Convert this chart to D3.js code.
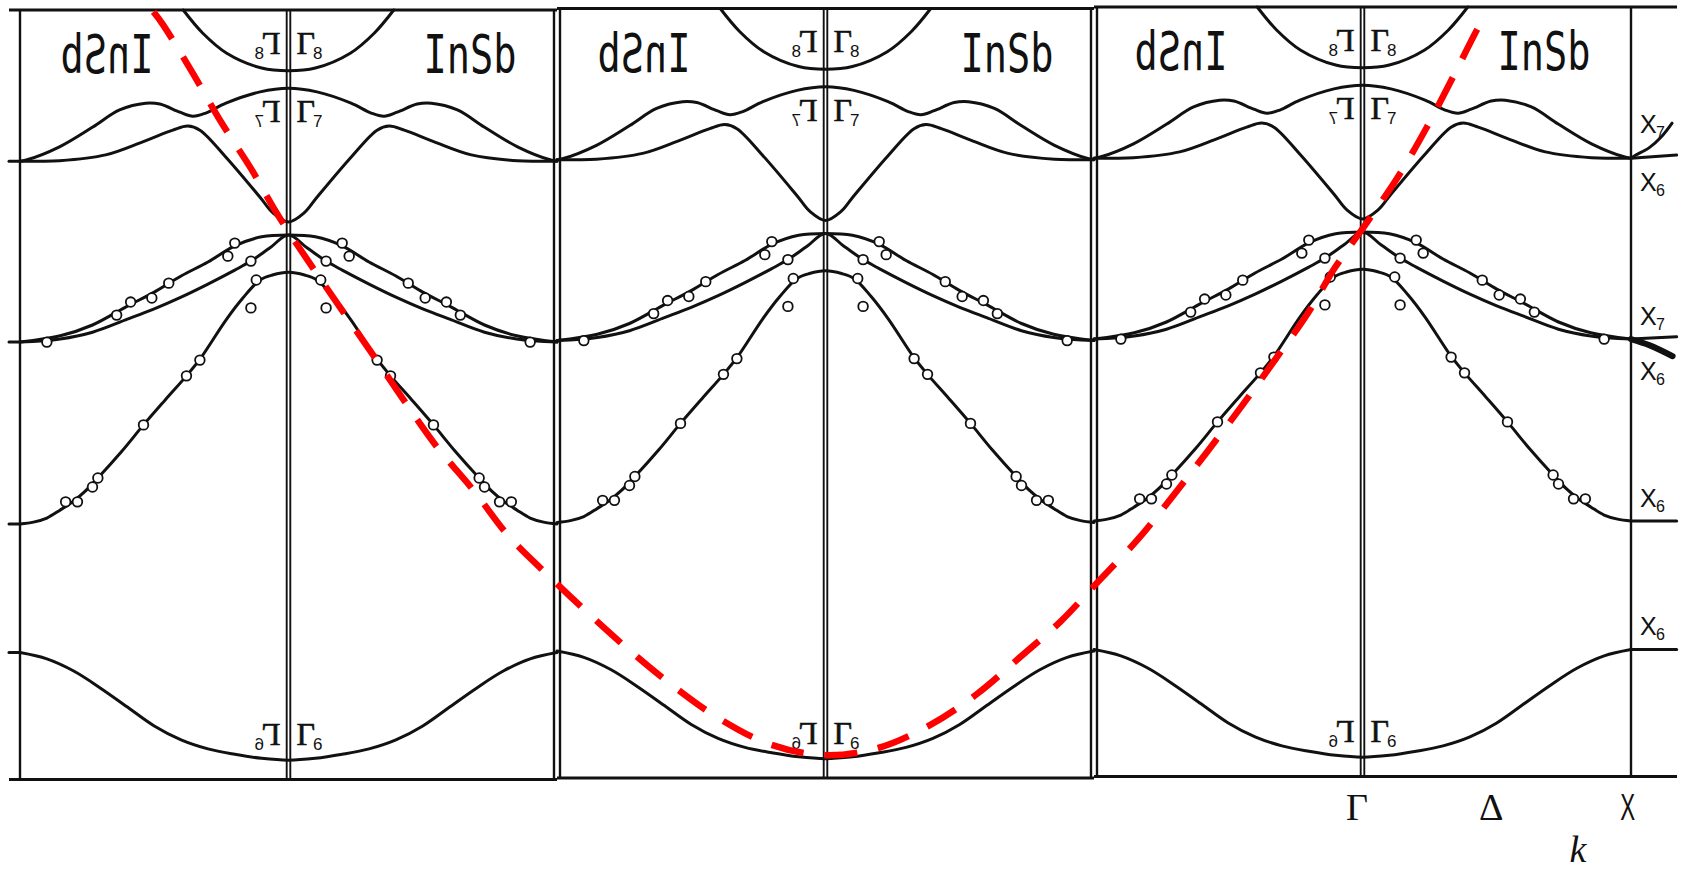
<!DOCTYPE html>
<html>
<head>
<meta charset="utf-8">
<title>InSb band structure – repeated zone scheme</title>
<script src="https://cdn.jsdelivr.net/npm/d3@7"></script>
<style>
  html, body { margin: 0; padding: 0; background: #ffffff; }
  svg { display: block; }
</style>
</head>
<body>
<svg id="chart" width="1681" height="873"></svg>
<script>
// ---- InSb bands along Γ → X (energy in eV, valence-band top = 0; k in units of Γ–X).
//      Each half is reflected about Γ to give the X–Γ–X panel.
const bandGamma8c   = [[0, 3.65], [0.1, 3.71], [0.23, 4.04], [0.32, 4.49], [0.392, 5.0]];
const bandGamma7c   = [[0, 3.26], [0.106, 3.18], [0.233, 2.93], [0.308, 2.71], [0.356, 2.64], [0.405, 2.73],
                       [0.479, 2.91], [0.532, 2.93], [0.629, 2.78], [0.729, 2.40], [0.853, 1.96], [0.98, 1.66], [1, 1.64]];
const bandGamma6c   = [[0, 0.29], [0.058, 0.49], [0.106, 0.84], [0.233, 1.73], [0.33, 2.33], [0.375, 2.42],
                       [0.431, 2.33], [0.543, 2.07], [0.681, 1.78], [0.853, 1.65], [0.93, 1.64], [1, 1.64]];
const bandHeavyHole = [[0, 0], [0.1, -0.04], [0.2, -0.24], [0.3, -0.60], [0.4, -0.91], [0.5, -1.27],
                       [0.6, -1.58], [0.73, -2.0], [0.85, -2.24], [1, -2.38]];
const bandLightHole = [[0, 0], [0.07, -0.29], [0.14, -0.58], [0.2, -0.78], [0.3, -1.09], [0.4, -1.38],
                       [0.5, -1.64], [0.6, -1.87], [0.73, -2.16], [0.85, -2.31], [1, -2.38]];
const bandSplitOff  = [[0, -0.83], [0.06, -0.89], [0.106, -1.0], [0.17, -1.4], [0.233, -1.89], [0.33, -2.76],
                       [0.38, -3.13], [0.46, -3.67], [0.54, -4.22], [0.62, -4.8], [0.71, -5.4], [0.76, -5.71],
                       [0.8, -5.91], [0.85, -6.11], [0.9, -6.29], [0.95, -6.38], [1, -6.42]];
const bandLowest    = [[0, -11.67], [0.1, -11.63], [0.2, -11.54], [0.3, -11.42], [0.4, -11.22], [0.5, -10.91],
                       [0.6, -10.49], [0.7, -10.07], [0.8, -9.69], [0.9, -9.42], [1, -9.28]];

// Measured points (open circles), reflected about Γ as well
const measuredK = [0.14, 0.20, 0.226, 0.446, 0.509, 0.588, 0.64, 0.90,
                   0.12, 0.14, 0.33, 0.38, 0.54, 0.71, 0.73, 0.786, 0.83];
const measuredE = [-0.58, -0.18, -0.47, -1.07, -1.40, -1.49, -1.78, -2.38,
                   -1.00, -1.62, -2.78, -3.13, -4.22, -5.40, -5.60, -5.93, -5.93];

// Bands leaving X on the far right
const beyondXUpperFlat = [[1, 1.64], [1.17, 1.71]];
const beyondXUpperRise = [[1, 1.64], [1.018, 1.71], [1.067, 1.87], [1.115, 2.13], [1.153, 2.42]];
const beyondXLowerFlat = [[1, -2.38], [1.17, -2.33]];
const beyondXLowerDrop = [[1, -2.38], [1.07, -2.52], [1.155, -2.76]];
const beyondXSplitOff  = [[1, -6.42], [1.17, -6.42]];
const beyondXLowest    = [[1, -9.28], [1.17, -9.28]];

// X-point energies that stick out to the left of the first panel
const xLevelStubs = [1.64, -2.38, -6.42, -9.28];

// Red dashed free-electron-like curve across the three zones (global k, eV)
const redK = [-2.503, -2.467, -2.355, -2.251, -2.139, -2.035, -1.801, -1.682, -1.566, -1.447, -1.309,
              -1.183, -1.030, -0.885, -0.728, -0.568, -0.400, -0.210, -0.006, 0.196, 0.389, 0.564,
              0.721, 0.877, 1.000, 1.164, 1.291, 1.421, 1.548, 1.671, 1.794, 1.897, 2.020, 2.136,
              2.240, 2.337, 2.430, 2.460];
const redE = [4.96, 4.67, 3.58, 2.51, 1.47, 0.40, -1.67, -2.69, -3.71, -4.71, -5.69,
              -6.67, -7.58, -8.40, -9.24, -10.02, -10.73, -11.31, -11.56, -11.40, -10.89, -10.20,
              -9.40, -8.58, -7.80, -6.76, -5.82, -4.82, -3.82, -2.80, -1.76, -0.73, 0.31, 1.33,
              2.40, 3.51, 4.60, 4.91];

// Panel Γ positions (global k) and labels
const panelGamma = [-2, 0, 2];
const materialName = "InSb";
const gammaSubs = ["8", "7", "6"];
const gammaLevels = [3.65, 3.26, -11.67];
const xPointSubs = ["7", "6", "7", "6", "6", "6"];
const xPointLevels = [1.64, 1.64, -2.38, -2.38, -6.42, -9.28];
const kTickValues = [2, 2.5, 3];
const kTickLabels = ["Γ", "Δ", "X"];
const kAxisTitle = "k";

// ---- Drawing
const svg = d3.select("#chart");
const ink = "#111111";
const eTop = 5.0, eBottom = -12.1;

const x = d3.scaleLinear().domain([-3, 3]).range([20, 1631]);
const y = d3.scaleLinear().domain([eBottom, eTop]).range([779.5, 10]);

const panelNudge = [0, -1.5, -3];           // small vertical offsets between the pasted panels
const gammaLabelDy = [-17, 34, -15];        // baseline of Γ labels relative to their level
const xLabelDy = [-25, 33, -14, 41, -14, -15];

const reflect = pts => pts.filter(p => p[0] > 0).map(p => [-p[0], p[1]]).reverse().concat(pts);
const bands = [bandGamma8c, bandGamma7c, bandGamma6c, bandHeavyHole, bandLightHole, bandSplitOff, bandLowest];

function drawHalfLabels(g, cx, dy) {
  gammaSubs.forEach((s, j) => {
    const base = y(gammaLevels[j]) + dy + gammaLabelDy[j];
    g.append("text")
      .attr("x", cx + 8).attr("y", base)
      .attr("font-family", "Liberation Serif").attr("font-size", 32)
      .attr("stroke", ink).attr("stroke-width", 0.6)
      .attr("fill", ink).text("Γ");
    g.append("text")
      .attr("x", cx + 24.5).attr("y", base + 5)
      .attr("font-family", "Liberation Sans").attr("font-size", 17)
      .attr("fill", ink).text(s);
  });
  g.append("text")
    .attr("x", cx + 135).attr("y", y(eTop) + dy + 63)
    .attr("font-family", "DejaVu Sans Mono").attr("font-size", 54)
    .attr("textLength", 93).attr("lengthAdjust", "spacingAndGlyphs")
    .attr("fill", ink).text(materialName);
}

panelGamma.forEach((kc, i) => {
  const dy = panelNudge[i];
  const g = svg.append("g").attr("class", "panel");
  const cx = x(kc);
  const yTop = y(eTop) + dy, yBot = y(eBottom) + dy;
  const line = d3.line()
    .x(d => x(kc + d[0]))
    .y(d => y(d[1]) + dy)
    .curve(d3.curveCatmullRom.alpha(0.5));

  // frame
  const xLeft = i === 0 ? x(kc - 1) : x(kc - 1) + 3;
  const xRight = i === 2 ? x(kc + 1) : x(kc + 1) - 3;
  const hx0 = i === 0 ? 9 : x(kc - 1);
  const hx1 = i === 2 ? 1677 : x(kc + 1);
  const frame = g.append("g").attr("stroke", ink).attr("fill", "none");
  frame.append("line").attr("x1", hx0).attr("x2", hx1).attr("y1", yTop).attr("y2", yTop).attr("stroke-width", 2.8);
  frame.append("line").attr("x1", hx0).attr("x2", hx1).attr("y1", yBot).attr("y2", yBot).attr("stroke-width", 2.8);
  [xLeft, xRight].forEach(v => frame.append("line")
    .attr("x1", v).attr("x2", v).attr("y1", yTop).attr("y2", yBot).attr("stroke-width", 2.4));
  [cx - 1.8, cx + 1.8].forEach(v => frame.append("line")
    .attr("x1", v).attr("x2", v).attr("y1", yTop).attr("y2", yBot).attr("stroke-width", 1.9));

  // bands
  const bg = g.append("g").attr("fill", "none").attr("stroke", ink).attr("stroke-width", 3)
    .attr("stroke-linejoin", "round").attr("stroke-linecap", "round");
  bands.forEach(b => bg.append("path").attr("d", line(reflect(b))));

  if (i === 0) {
    xLevelStubs.forEach(e => bg.append("line")
      .attr("x1", x(kc - 1) - 11).attr("x2", x(kc - 1))
      .attr("y1", y(e) + dy).attr("y2", y(e) + dy));
  }
  if (i === 2) {
    [beyondXUpperFlat, beyondXUpperRise, beyondXLowerFlat, beyondXSplitOff, beyondXLowest]
      .forEach(b => bg.append("path").attr("d", line(b)));
    bg.append("path").attr("d", line(beyondXLowerDrop)).attr("stroke-width", 6);

    const xl = g.append("g").attr("fill", ink);
    xPointSubs.forEach((s, j) => {
      const base = y(xPointLevels[j]) + dy + xLabelDy[j];
      xl.append("text").attr("x", x(kc + 1) + 9).attr("y", base)
        .attr("font-family", "Liberation Sans").attr("font-size", 25).text("X");
      xl.append("text").attr("x", x(kc + 1) + 25).attr("y", base + 5)
        .attr("font-family", "Liberation Sans").attr("font-size", 16).text(s);
    });
  }

  // measured points on both sides of Γ
  const pts = [];
  measuredK.forEach((k, j) => { pts.push([k, measuredE[j]]); pts.push([-k, measuredE[j]]); });
  g.append("g").selectAll("circle").data(pts).join("circle")
    .attr("cx", d => x(kc + d[0])).attr("cy", d => y(d[1]) + dy).attr("r", 4.8)
    .attr("fill", "#ffffff").attr("stroke", ink).attr("stroke-width", 1.8);

  // labels, right half and its mirror image on the left
  drawHalfLabels(g.append("g"), cx, dy);
  drawHalfLabels(g.append("g").attr("transform", `translate(${2 * cx},0) scale(-1,1)`), cx, dy);
});

// red dashed curve
const redLine = d3.line()
  .x((d, j) => x(redK[j]))
  .y((d, j) => y(redE[j]))
  .curve(d3.curveCatmullRom.alpha(0.5));
svg.append("path")
  .attr("d", redLine(redK))
  .attr("fill", "none").attr("stroke", "#ff0000").attr("stroke-width", 6.5)
  .attr("stroke-dasharray", "33,21").attr("stroke-linecap", "butt");

// k axis labels under the last panel
const axis = d3.axisBottom(x).tickValues(kTickValues)
  .tickFormat((d, j) => kTickLabels[j]).tickSize(0).tickPadding(0);
const ag = svg.append("g").attr("transform", "translate(0,820)").call(axis);
ag.select(".domain").remove();
ag.selectAll(".tick text")
  .attr("dy", 0).attr("x", -6)
  .attr("fill", ink)
  .attr("font-family", (d, j) => j === 2 ? "Liberation Sans" : "Liberation Serif")
  .attr("font-size", (d, j) => j === 2 ? 36 : 38)
  .attr("transform", (d, j) => j === 2 ? "scale(0.62,1)" : null);

svg.append("text")
  .attr("x", 1578).attr("y", 862).attr("text-anchor", "middle")
  .attr("font-family", "Liberation Serif").attr("font-style", "italic").attr("font-size", 38)
  .attr("fill", ink).text(kAxisTitle);
</script>
</body>
</html>
